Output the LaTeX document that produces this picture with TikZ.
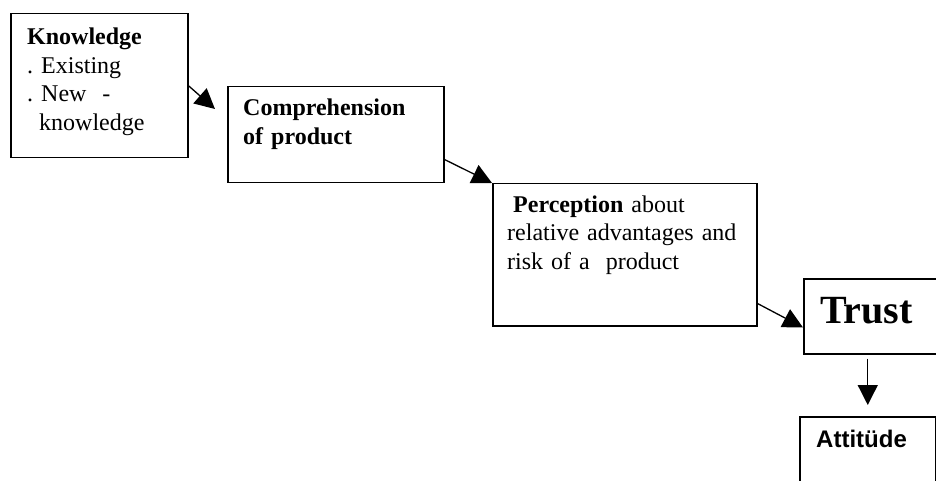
\documentclass[tikz,border=0pt]{standalone}
\usepackage{fontspec}
\setmainfont{Liberation Serif}
\newfontfamily\arialfont{Liberation Sans}
\usetikzlibrary{calc,arrows.meta,positioning}
\frenchspacing

\tikzset{
	box/.style={draw, line width=1.5pt, anchor=north west, inner sep=0pt},
	txt/.style={anchor=base west, inner sep=0pt, align=left, font=\fontsize{24}{28.5}\selectfont},
	arr/.style={line width=1.3pt, -{Triangle[length=20pt,width=20pt]}}
}

\begin{document}
\begin{tikzpicture}[x=1pt,y=-1pt]
		
		\useasboundingbox (0,0) rectangle (936,481);
		
		% boxes
		\node (know) at (10,13)[box, minimum width=177pt, minimum height=144pt] {};
		\node (comp) at (227,86)[box, minimum width=216pt, minimum height=96pt] {};
		\node (perc) at (492,183)[box, minimum width=264pt, minimum height=142pt] {};
		\node (trust) at (803,278)[box, minimum width=150pt, minimum height=75pt] {};
		\node (att) at (799,416)[box, minimum width=136pt, minimum height=90pt] {};
		
		% texts
		\node (knowtxt) at (27,45)[txt, text width=150pt] {\textbf{Knowledge}\\. Existing\\. New\ \ -\\\hspace*{12pt}knowledge};
		\node (comptxt) at (243,116)[txt, text width=190pt] {\textbf{Comprehension}\\\textbf{of product}};
		\node (perctxt) at (507,212)[txt, text width=245pt] {\hspace*{6pt}\textbf{Perception} about\\relative advantages and\\risk of a\ \ product};
		\node (trusttxt) at (820,323)[txt, font=\fontsize{40}{44}\selectfont\bfseries] {Trust};
		\node (atttxt) at (816,447)[txt, font=\fontsize{24}{28}\arialfont\bfseries] {Attitüde};
		
		% arrows
		\draw[arr] (know.east) -- ($(comp.north west)+(-12,23)$);
		\draw[arr] ($(comp.south east)+(0,-24)$) -- (perc.north west);
		\draw[arr] ($(perc.south east)+(0,-23)$) -- ($(trust.south west)+(0,-27)$);
		\draw[arr] ($(att.north |- trust.south)+(0,4)$) -- ($(att.north)+(0,-11)$);
		
\end{tikzpicture}
\end{document}
